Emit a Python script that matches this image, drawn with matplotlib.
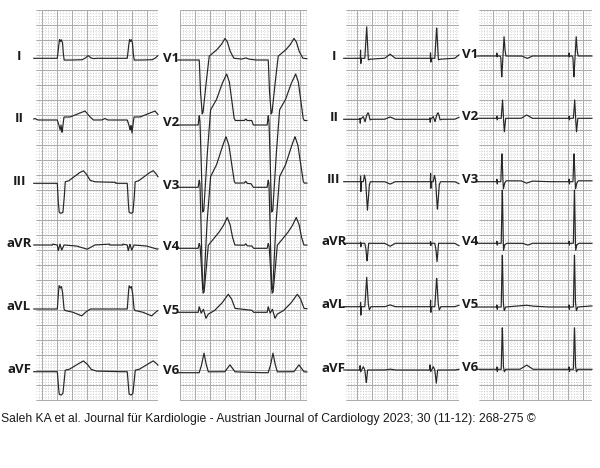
"""Two 12-lead ECG strips side by side (wide-QRS tracing left, paced narrow-QRS right)."""
import numpy as np
import matplotlib
matplotlib.use("Agg")
import matplotlib.pyplot as plt
from matplotlib import font_manager

# ---------------------------------------------------------------------------
# Data: one beat template per lead, (ms from beat reference, mV), read off the
# picture. Beat reference times are seconds from the left edge of each strip.
# ---------------------------------------------------------------------------
LEADS_LIMB = ["I", "II", "III", "aVR", "aVL", "aVF"]
LEADS_CHEST = ["V1", "V2", "V3", "V4", "V5", "V6"]

BEATS_A = [0.284, 1.217]
BEATS_B = [0.257, 1.177]
BEATS_C = [0.276, 1.209]
BEATS_D = [0.311, 1.273]

# strip A: limb leads, wide QRS
I_A = [(-30, 0), (0, 0), (15, 0.35), (30, 0.63), (42, 0.56), (55, 0.62), (70, 0.5), (80, 0.15),
       (92, -0.06), (130, -0.06), (330, -0.05), (370, 0.0), (410, 0.09), (450, 0.01), (480, -0.01), (520, 0)]
II_A = [(-340, 0), (-300, 0.05), (-260, 0), (0, 0), (20, -0.15), (38, -0.33), (50, -0.17), (63, -0.43),
        (78, -0.1), (90, 0.1), (170, 0.1), (270, 0.2), (370, 0.3), (430, 0.12), (480, 0), (560, 0)]
III_A = [(0, 0), (12, -0.6), (25, -0.97), (50, -1.0), (75, -0.97), (92, -0.5), (105, 0.05), (150, 0.08),
         (240, 0.25), (300, 0.36), (347, 0.42), (390, 0.3), (436, 0.1), (500, 0.05), (700, 0.04), (780, 0.03)]
aVR_A = [(-60, 0.03), (0, 0), (13, -0.19), (36, 0.03), (59, -0.17), (90, 0.0), (250, -0.03),
         (400, -0.14), (500, 0.0), (700, 0.03)]
aVL_A = [(0, 0), (12, 0.45), (24, 0.78), (40, 0.7), (55, 0.75), (70, 0.55), (90, 0.0), (103, -0.05),
         (200, -0.1), (300, -0.2), (325, -0.23), (380, -0.1), (440, 0), (800, 0)]
aVF_A = [(0, 0), (12, -0.4), (25, -0.75), (50, -0.78), (75, -0.72), (92, -0.3), (105, 0.05), (160, 0.08),
         (250, 0.22), (347, 0.36), (400, 0.25), (450, 0.08), (520, 0.02), (800, 0)]

# strip B: chest leads, wide QRS
V1_B = [(0, 0), (15, -1.0), (38, -1.8), (50, -1.75), (85, -0.9), (133, 0.13), (230, 0.33), (290, 0.5),
        (343, 0.72), (375, 0.6), (410, 0.3), (460, 0.06), (560, 0.03), (620, 0.07), (660, 0.03), (750, 0.0)]
V2_B = [(-15, 0), (0, 0.33), (10, 0.1), (45, -2.9), (60, -2.85), (100, -1.2), (150, 0.5), (230, 0.85),
        (300, 1.35), (365, 1.7), (400, 1.45), (430, 0.9), (465, 0.22), (480, 0.15), (600, 0.15),
        (620, 0.2), (640, 0.15), (700, 0.15), (720, 0), (800, 0)]
V3_B = [(-15, 0), (0, 0.25), (10, 0.1), (45, -3.4), (60, -3.35), (100, -1.3), (150, 0.35), (230, 0.75),
        (300, 1.3), (356, 1.69), (395, 1.4), (430, 0.8), (467, 0.19), (480, 0.14), (600, 0.14),
        (620, 0.2), (640, 0.13), (690, 0.12), (720, 0), (800, 0)]
V4_B = [(-15, 0), (0, 0.17), (12, 0.05), (50, -1.5), (65, -1.45), (120, 0.1), (253, 0.5), (320, 0.75),
        (373, 1.03), (410, 0.8), (440, 0.4), (475, 0.11), (600, 0.1), (620, 0.15), (640, 0.08),
        (700, 0.08), (725, 0), (800, 0)]
V5_B = [(-15, 0), (0, 0.19), (25, -0.03), (55, 0.1), (90, -0.2), (120, -0.06), (200, 0.05), (300, 0.3),
        (387, 0.6), (430, 0.45), (476, 0.13), (700, 0.07), (725, 0), (800, 0)]
V6_B = [(0, 0.02), (25, 0.2), (63, 0.65), (90, 0.3), (120, 0.03), (340, 0.03), (409, 0.26), (476, 0.03),
        (800, 0.0)]

# strip C: limb leads, paced, narrow QRS
I_C = [(-85, 0), (-82, 0.27), (-78, -0.17), (-74, 0), (-25, 0), (0, 1.05), (22, -0.05), (45, -0.03),
       (240, 0), (311, 0.14), (380, 0), (600, 0)]
II_C = [(-92, 0), (-89, 0.05), (-86, -0.13), (-82, 0), (-45, 0.09), (-22, -0.08), (0, 0.14), (18, 0.22),
        (30, 0.15), (44, -0.02), (60, 0), (240, 0), (311, 0.08), (380, 0), (600, 0)]
III_C = [(-84, 0), (-81, 0.28), (-78, -0.33), (-75, 0), (-45, 0), (-30, 0.22), (-15, 0.05), (10, -0.95),
         (35, -0.1), (50, 0), (240, 0), (311, -0.08), (380, 0), (600, 0)]
aVR_C = [(-84, 0), (-81, 0.06), (-78, -0.11), (-75, 0), (-25, 0), (-10, -0.2), (5, -0.61), (25, 0),
         (240, 0), (311, -0.1), (380, 0), (600, 0)]
aVL_C = [(-84, 0), (-81, 0.22), (-78, -0.28), (-75, 0), (-25, 0), (0, 0.98), (20, 0.1), (35, -0.11),
         (55, 0), (240, 0), (311, 0.06), (380, 0), (600, 0)]
aVF_C = [(-92, 0), (-89, 0.17), (-80, -0.06), (-45, 0.11), (-25, 0.0), (-5, -0.44), (12, 0), (240, 0),
         (311, 0.03), (380, 0), (600, 0)]

# strip D: chest leads, paced, narrow QRS
V1_D = [(-75, 0), (-72, 0.14), (-68, -0.04), (-64, 0), (-30, 0), (-20, -0.05), (-8, -0.74), (8, 0.0),
        (22, 0.68), (35, 0.2), (49, 0), (260, 0), (333, -0.08), (400, 0), (600, 0)]
V2_D = [(-75, 0), (-72, 0.1), (-68, -0.07), (-64, 0), (-15, 0), (3, 0.61), (15, 0.0), (27, -0.45),
        (45, 0), (250, 0), (325, 0.11), (400, 0), (600, 0)]
V3_D = [(-75, 0), (-72, 0.12), (-68, -0.1), (-64, 0), (-20, 0), (-6, 1.0), (5, 0.2), (14, -0.25),
        (30, -0.05), (50, 0.03), (250, 0.03), (320, -0.05), (400, 0.02), (600, 0)]
V4_D = [(-75, 0), (-72, 0.1), (-68, -0.08), (-64, 0), (-15, 0), (0, 1.9), (10, 0.3), (16, -0.25),
        (30, -0.05), (60, 0), (270, 0), (340, -0.06), (400, 0), (600, 0)]
V5_D = [(-75, 0), (-72, 0.1), (-68, -0.1), (-64, 0), (-15, 0), (0, 1.85), (12, 0.2), (25, -0.12),
        (45, 0), (250, 0.04), (320, 0.06), (400, 0.03), (600, 0)]
V6_D = [(-75, 0), (-72, 0.12), (-68, -0.1), (-64, 0), (-15, 0), (0, 1.48), (14, 0.1), (27, -0.08),
        (45, 0), (235, 0), (325, 0.14), (410, 0), (600, 0)]

CAPTION = ("Saleh KA et al. Journal für Kardiologie - Austrian Journal of Cardiology "
           "2023; 30 (11-12): 268-275 ©")

# ---------------------------------------------------------------------------
# Layout (pixels of the 600x468 output)
# ---------------------------------------------------------------------------
FIG_W, FIG_H = 600, 468
PX_PER_S = 75.0    # 25 mm/s at 3 px/mm
PX_PER_MV = 30.0   # 10 mm/mV at 3 px/mm
TOP, BOTTOM = 10, 401

# left, right, phase of first major vertical line (px), label centre x, lead baselines (px)
STRIPS = [
    (36, 158, 5.7, 19.0, [58.3, 120, 183.3, 245, 309, 371.7]),
    (180, 307, 0.0, 171.5, [60, 125, 187.3, 248.3, 312.3, 372.7]),
    (346, 459, 10.7, 334.0, [58.3, 119.3, 181.7, 243.3, 306.7, 370]),
    (479, 592, 14.3, 470.5, [56, 118.3, 181.7, 243.3, 307, 369.3]),
]

MAJOR_C = "#acacac"
MINOR_C = "#b8b8b8"
TRACE_C = "#262626"


def build_trace(t, template, beats):
    tmpl = np.asarray(template, dtype=float)
    sig = np.zeros_like(t)
    for b in beats:
        tt = b + tmpl[:, 0] / 1000.0
        m = (t >= tt[0]) & (t <= tt[-1])
        sig[m] = np.interp(t[m], tt, tmpl[:, 1])
    return sig


def draw_strip(fig, strip, leads, templates, beats):
    left, right, phase, label_x, baselines = strip
    ax = fig.add_axes([left / FIG_W, 1 - BOTTOM / FIG_H,
                       (right - left) / FIG_W, (BOTTOM - TOP) / FIG_H])
    width_s = (right - left) / PX_PER_S
    height_mv = (BOTTOM - TOP) / PX_PER_MV
    ax.set_xlim(0, width_s)
    ax.set_ylim(-height_mv, 0)
    ax.axis("off")

    # paper grid: 0.04 s / 0.1 mV dotted, 0.2 s / 0.5 mV solid
    x0 = phase / PX_PER_S
    minor_x = np.arange(x0 % 0.04, width_s, 0.04)
    major_x = np.arange(x0, width_s, 0.2)
    minor_y = -np.arange(0, height_mv, 0.1)
    major_y = -np.arange(0, height_mv + 1e-6, 0.5)
    ax.vlines(minor_x, -height_mv, 0, colors=MINOR_C, lw=0.5, linestyles=(0, (1, 2.4)), zorder=1)
    ax.hlines(minor_y, 0, width_s, colors=MINOR_C, lw=0.5, linestyles=(0, (1, 2.4)), zorder=1)
    ax.vlines(major_x, -height_mv, 0, colors=MAJOR_C, lw=0.75, zorder=2)
    ax.hlines(major_y, 0, width_s, colors=MAJOR_C, lw=0.75, zorder=2)

    t = np.arange(-0.03, width_s, 0.002)
    for name, tmpl, base in zip(leads, templates, baselines):
        offset = -(base - TOP) / PX_PER_MV
        ax.plot(t, offset + build_trace(t, tmpl, beats), color=TRACE_C, lw=0.85,
                clip_on=False, zorder=3, solid_joinstyle="round")
        fig.text(label_x / FIG_W, 1 - (base - 2) / FIG_H, name, ha="center", va="center",
                 fontsize=9.5, fontweight="bold", family=["Open Sans", "DejaVu Sans"], color="#1a1a1a")
    return ax


def main():
    fig = plt.figure(figsize=(FIG_W / 100, FIG_H / 100), dpi=100)
    fig.patch.set_facecolor("white")

    draw_strip(fig, STRIPS[0], LEADS_LIMB, [I_A, II_A, III_A, aVR_A, aVL_A, aVF_A], BEATS_A)
    draw_strip(fig, STRIPS[1], LEADS_CHEST, [V1_B, V2_B, V3_B, V4_B, V5_B, V6_B], BEATS_B)
    draw_strip(fig, STRIPS[2], LEADS_LIMB, [I_C, II_C, III_C, aVR_C, aVL_C, aVF_C], BEATS_C)
    draw_strip(fig, STRIPS[3], LEADS_CHEST, [V1_D, V2_D, V3_D, V4_D, V5_D, V6_D], BEATS_D)

    names = {f.name for f in font_manager.fontManager.ttflist}
    family = "Liberation Sans Narrow" if "Liberation Sans Narrow" in names else "Liberation Sans"
    cap = fig.text(1 / FIG_W, 1 - 419 / FIG_H, CAPTION, ha="left", va="center",
                   fontsize=9, family=family, color="#1a1a1a")
    # fit caption to its width in the reference (~536 px)
    fig.canvas.draw()
    w = cap.get_window_extent().width
    cap.set_fontsize(9 * 536.0 / w)

    fig.savefig("out.png", dpi=100, facecolor="white")


if __name__ == "__main__":
    main()
